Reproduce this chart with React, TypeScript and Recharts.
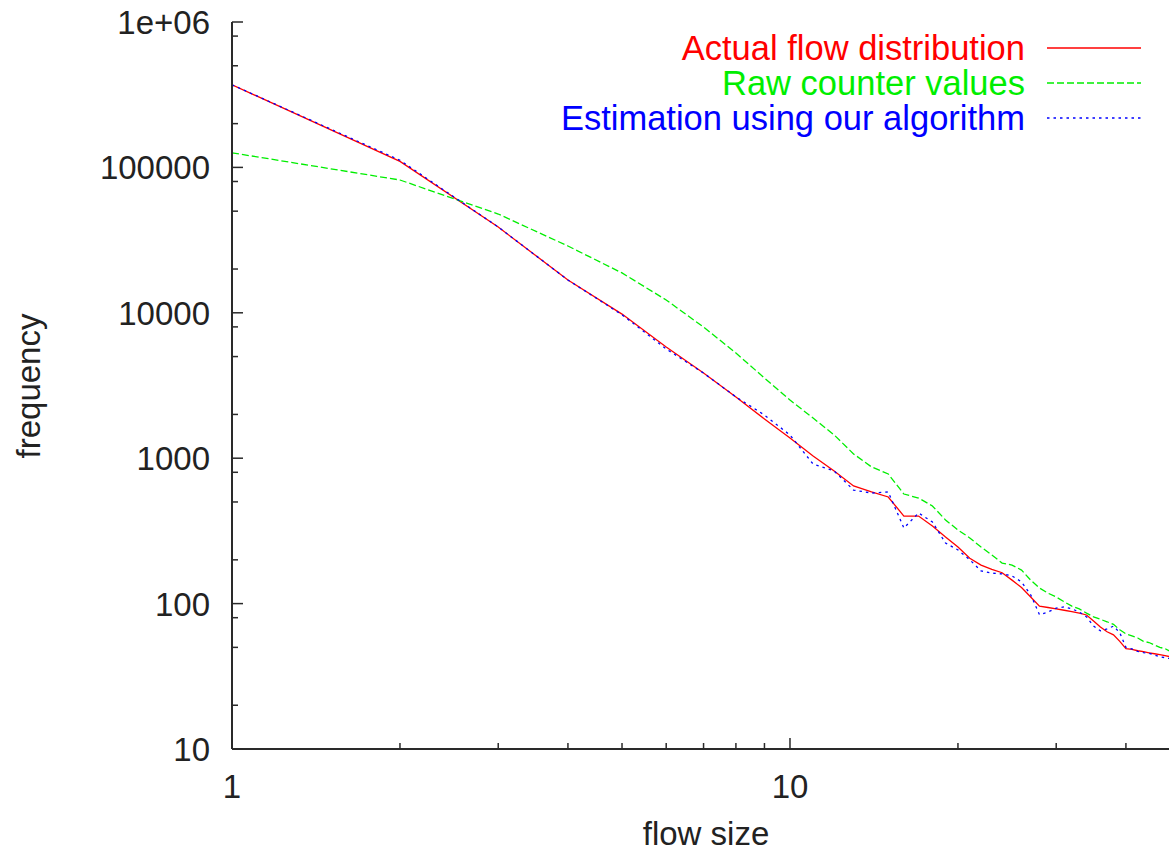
import React from 'react';
import { LineChart, Line, XAxis, YAxis } from 'recharts';

const flowSizes = [
  1, 2, 3, 4, 5, 6, 7, 8, 9, 10, 11, 12, 13, 14, 15, 16, 17, 18, 19, 20, 21, 22, 23, 24,
  25, 26, 27, 28, 29, 30, 31, 32, 33, 34, 35, 36, 37, 38, 39, 40, 41, 42, 43, 44, 45, 46, 47, 48,
];

const actualFlow = [
  370000, 110000, 38900, 16800, 9800, 5820, 3850, 2640, 1862, 1377, 1035, 817, 644, 586, 541, 400,
  400, 342, 287, 245, 205, 184, 172, 163, 145, 129, 111, 96, 94, 92, 90, 88, 86, 83.5, 76, 69, 64,
  61, 55, 49, 48.5, 47.4, 46.7, 45.9, 45.2, 44.5, 43.8, 43.1,
];

const rawCounter = [
  126000, 81900, 47800, 28800, 18800, 12250, 7980, 5290, 3560, 2510, 1890, 1445, 1070, 871, 779,
  567, 532, 469, 376, 321, 283, 245, 216, 190, 184, 170, 145, 128, 118, 111, 103, 96, 92, 86, 81,
  78, 75, 72, 66, 62, 60, 58, 55, 54, 52, 50, 49, 47,
];

const estimation = [
  370000, 112000, 38900, 16800, 9700, 5640, 3850, 2640, 1980, 1445, 912, 817, 604, 576, 586, 331,
  420, 364, 261, 234, 200, 168, 162, 160, 155, 141, 115, 84, 87.5, 93, 95, 92, 87.5, 81, 70, 65, 67,
  70, 63, 50, 48.8, 47, 46, 45.5, 44.3, 43, 42.5, 41.8,
];

const xTickValues = [1, 2, 3, 4, 5, 6, 7, 8, 9, 10, 20, 30, 40, 50];
const yTickValues = [
  10, 20, 50, 80, 100, 200, 500, 800, 1000, 2000, 5000, 8000, 10000, 20000, 50000, 80000, 100000,
  200000, 500000, 800000, 1000000,
];

const seriesKeys = ['actual', 'raw', 'est'];
const seriesNames = ['Actual flow distribution', 'Raw counter values', 'Estimation using our algorithm'];
const seriesColors = ['#ff0000', '#00ee00', '#0000ff'];
const seriesDash = ['', '7 3', '2.5 4'];

const xAxisTitle = 'flow size';
const yAxisTitle = 'frequency';

const data = flowSizes.map((x, i) => ({
  x,
  actual: actualFlow[i],
  raw: rawCounter[i],
  est: estimation[i],
}));

const FONT = '"Liberation Sans", Arial, Helvetica, sans-serif';
const AXIS = '#2a2a2a';
const TEXT = '#222222';
const FS = 33;
const LEGEND_FS = 34.5;

const isMajor = (v: number) => Math.abs(Math.log10(v) - Math.round(Math.log10(v))) < 1e-9;
const fmtY = (v: number) => (v >= 1000000 ? '1e+06' : String(v));

const BottomTick = (props: any) => {
  const { x, y, payload } = props;
  const v = payload.value;
  const major = isMajor(v);
  return (
    <g>
      <line x1={x} y1={y} x2={x} y2={y - (major ? 11 : 6)} stroke={AXIS} strokeWidth={1.5} />
      {major && (
        <text x={x} y={y + 49} textAnchor="middle" fontSize={FS} fontFamily={FONT} fill={TEXT}>
          {v}
        </text>
      )}
    </g>
  );
};

const TopTick = (props: any) => {
  const { x, y, payload } = props;
  const major = isMajor(payload.value);
  return <line x1={x} y1={y} x2={x} y2={y + (major ? 11 : 6)} stroke={AXIS} strokeWidth={1.5} />;
};

const LeftTick = (props: any) => {
  const { x, y, payload } = props;
  const v = payload.value;
  const major = isMajor(v);
  return (
    <g>
      <line x1={x} y1={y} x2={x + (major ? 11 : 6)} y2={y} stroke={AXIS} strokeWidth={1.5} />
      {major && (
        <text x={x - 22} y={y + 12} textAnchor="end" fontSize={FS} fontFamily={FONT} fill={TEXT}>
          {fmtY(v)}
        </text>
      )}
    </g>
  );
};

const YTitle = () => (
  <text
    transform="translate(40, 386) rotate(-90)"
    textAnchor="middle"
    fontSize={FS}
    fontFamily={FONT}
    fill={TEXT}
  >
    {yAxisTitle}
  </text>
);

const LegendOverlay = () => (
  <svg
    width={1169}
    height={150}
    style={{ position: 'absolute', left: 0, top: 0, pointerEvents: 'none' }}
  >
    {seriesNames.map((name, i) => {
      const cy = 48 + i * 35;
      return (
        <g key={name}>
          <text
            x={1025}
            y={cy + 12}
            textAnchor="end"
            fontSize={LEGEND_FS}
            fontFamily={FONT}
            fill={seriesColors[i]}
          >
            {name}
          </text>
          <line
            x1={1047}
            y1={cy}
            x2={1141}
            y2={cy}
            stroke={seriesColors[i]}
            strokeWidth={1.3}
            strokeDasharray={seriesDash[i] || undefined}
          />
        </g>
      );
    })}
  </svg>
);

export default function App() {
  return (
    <div
      style={{
        position: 'fixed',
        left: 0,
        top: 0,
        width: 1169,
        height: 853,
        overflow: 'hidden',
        background: '#ffffff',
      }}
    >
      <LineChart
        width={1200}
        height={853}
        data={data}
        margin={{ top: 22, right: 20, bottom: 0, left: 0 }}
      >
        <XAxis
          xAxisId="b"
          dataKey="x"
          type="number"
          scale="log"
          domain={[1, 50]}
          allowDataOverflow
          ticks={xTickValues}
          interval={0}
          height={104}
          tickSize={0}
          tickMargin={0}
          tickLine={false}
          axisLine={{ stroke: AXIS, strokeWidth: 2 }}
          tick={<BottomTick />}
          label={{
            value: xAxisTitle,
            position: 'insideBottom',
            offset: 8,
            fontSize: FS,
            fontFamily: FONT,
            fill: TEXT,
          }}
        />
        <XAxis
          xAxisId="t"
          orientation="top"
          dataKey="x"
          type="number"
          scale="log"
          domain={[1, 50]}
          allowDataOverflow
          ticks={xTickValues}
          interval={0}
          height={0}
          tickSize={0}
          tickMargin={0}
          tickLine={false}
          axisLine={{ stroke: AXIS, strokeWidth: 2 }}
          tick={<TopTick />}
        />
        <YAxis
          type="number"
          scale="log"
          domain={[10, 1000000]}
          allowDataOverflow
          ticks={yTickValues}
          interval={0}
          width={232}
          tickSize={0}
          tickMargin={0}
          tickLine={false}
          axisLine={{ stroke: AXIS, strokeWidth: 2 }}
          tick={<LeftTick />}
          label={{ content: <YTitle /> }}
        />
        {seriesKeys.map((k, i) => (
          <Line
            key={k}
            xAxisId="b"
            type="linear"
            dataKey={k}
            name={seriesNames[i]}
            stroke={seriesColors[i]}
            strokeWidth={1.3}
            strokeDasharray={seriesDash[i] || undefined}
            dot={false}
            activeDot={false}
            isAnimationActive={false}
          />
        ))}
      </LineChart>
      <LegendOverlay />
    </div>
  );
}
